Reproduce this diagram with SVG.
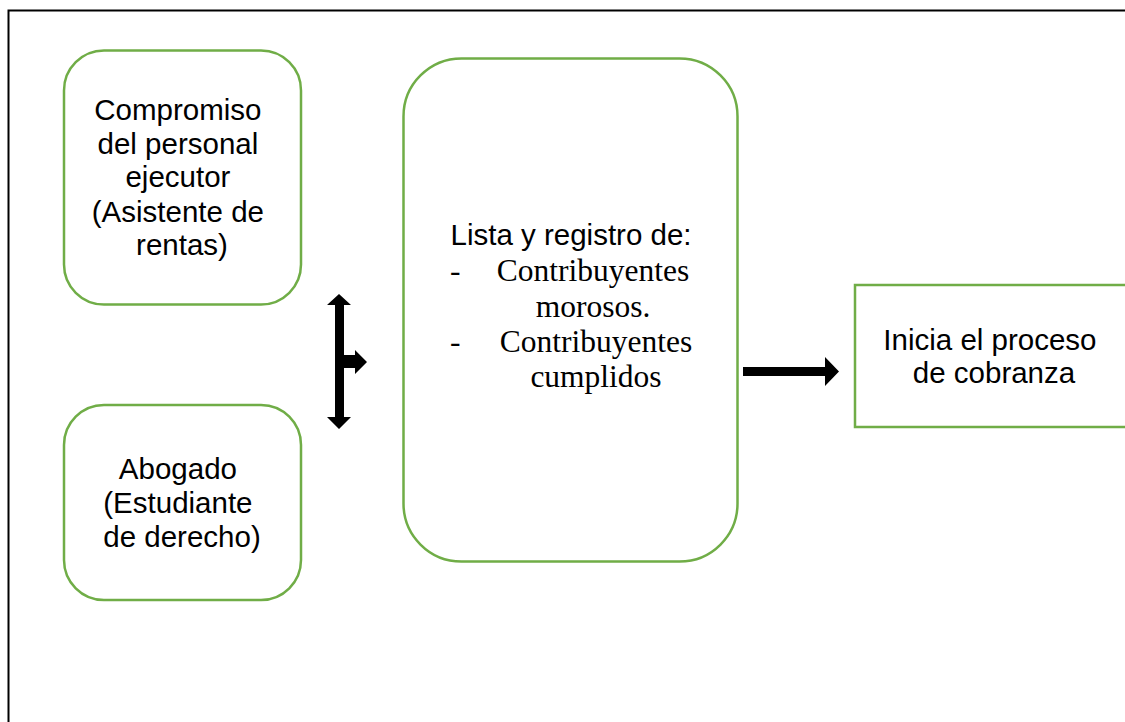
<svg xmlns="http://www.w3.org/2000/svg" width="1125" height="722" viewBox="0 0 1125 722">
<style>
.node{fill:#fff;stroke:#70AD47;stroke-width:2.5}
.sans{font-family:"Liberation Sans",Arial,sans-serif;font-size:29.5px;fill:#000}
.serif{font-family:"Liberation Serif","Times New Roman",serif;font-size:31.5px;fill:#000}
.arrow{fill:#000}
</style>
<rect x="0" y="0" width="1125" height="722" fill="#fff"/>
<path d="M8.5 722 V10.5 H1125" fill="none" stroke="#000" stroke-width="2"/>
<g id="node-compromiso">
<rect class="node" x="64" y="50.5" width="237" height="254" rx="40"/>
<text class="sans" text-anchor="middle">
<tspan x="182" y="120">Compromiso</tspan>
<tspan x="182" y="154">del personal</tspan>
<tspan x="182" y="187">ejecutor</tspan>
<tspan x="182" y="222">(Asistente de</tspan>
<tspan x="182" y="255">rentas)</tspan>
</text>
</g>
<g id="node-abogado">
<rect class="node" x="64" y="405" width="237" height="195" rx="40"/>
<text class="sans" text-anchor="middle">
<tspan x="182" y="479">Abogado</tspan>
<tspan x="182" y="513">(Estudiante</tspan>
<tspan x="182" y="547">de derecho)</tspan>
</text>
</g>
<g id="node-lista">
<rect class="node" x="403.5" y="58.5" width="334" height="503" rx="58"/>
<text class="sans" text-anchor="middle" x="571" y="245">Lista y registro de:</text>
<text class="serif" x="450" y="281">-</text>
<text class="serif" text-anchor="middle" x="593" y="281">Contribuyentes</text>
<text class="serif" text-anchor="middle" x="593" y="317">morosos.</text>
<text class="serif" x="450" y="352">-</text>
<text class="serif" text-anchor="middle" x="596" y="352">Contribuyentes</text>
<text class="serif" text-anchor="middle" x="596" y="387">cumplidos</text>
</g>
<g id="node-inicia">
<rect class="node" x="855" y="285" width="280" height="142"/>
<text class="sans" text-anchor="middle">
<tspan x="994" y="350">Inicia el proceso</tspan>
<tspan x="994" y="383">de cobranza</tspan>
</text>
</g>
<g id="connectors">
<path class="arrow" d="M339 294 L351 305 L344 305 L344 355 L355 355 L355 350 L367 362 L355 374 L355 368 L344 368 L344 417 L351 417 L339 429 L327 417 L335 417 L335 305 L327 305 Z"/>
<path class="arrow" d="M743 367 L825 367 L825 357 L839 371.5 L825 386 L825 376 L743 376 Z"/>
</g>
</svg>
